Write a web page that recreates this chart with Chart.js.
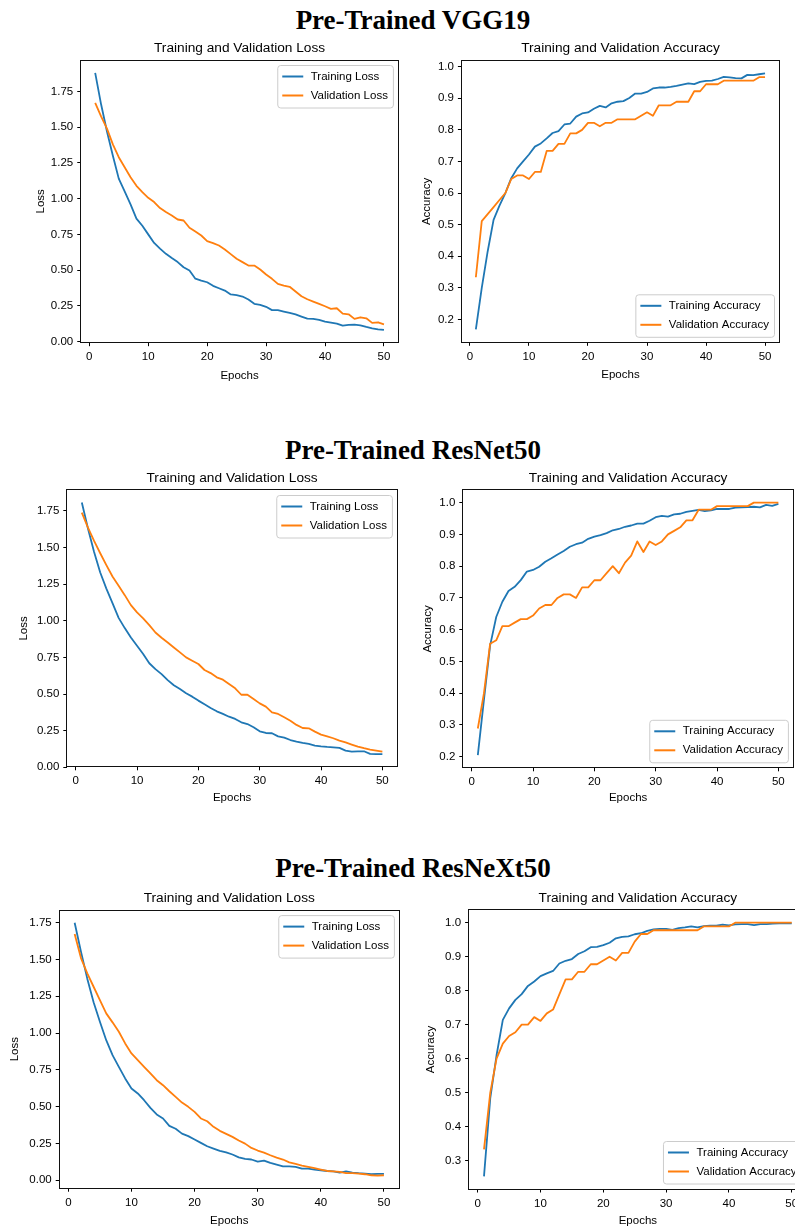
<!DOCTYPE html>
<html>
<head>
<meta charset="utf-8">
<title>Pre-Trained models - training curves</title>
<script src="https://cdn.jsdelivr.net/npm/chart.js@4.4.1/dist/chart.umd.min.js"></script>
<style>
  html, body { margin: 0; padding: 0; background: #fff; overflow: hidden; }
  body { position: relative; width: 795px; height: 1230px; }
  .model-title {
    position: absolute; left: 213px; width: 400px; text-align: center;
    font-family: 'Liberation Serif', 'Times New Roman', serif; font-weight: bold;
    font-size: 27px; line-height: 27px; color: #000; white-space: nowrap;
  }
  canvas { position: absolute; }
</style>
</head>
<body>
<div class="model-title" style="top: 7px">Pre-Trained VGG19</div>
<div class="model-title" style="top: 437px">Pre-Trained ResNet50</div>
<div class="model-title" style="top: 855px">Pre-Trained ResNeXt50</div>

<script>
// ---- data ----
const epochs = [1, 2, 3, 4, 5, 6, 7, 8, 9, 10, 11, 12, 13, 14, 15, 16, 17, 18, 19, 20, 21, 22, 23, 24, 25,
  26, 27, 28, 29, 30, 31, 32, 33, 34, 35, 36, 37, 38, 39, 40, 41, 42, 43, 44, 45, 46, 47, 48, 49, 50];
const epochTicks = [0, 10, 20, 30, 40, 50];
const lossTicks = [0, 0.25, 0.5, 0.75, 1.0, 1.25, 1.5, 1.75];
const accTicks = [0.2, 0.3, 0.4, 0.5, 0.6, 0.7, 0.8, 0.9, 1.0];
const accTicksNext = [0.3, 0.4, 0.5, 0.6, 0.7, 0.8, 0.9, 1.0];

const vggTrainLoss = [1.88, 1.66, 1.47, 1.30, 1.14, 1.05, 0.96, 0.86, 0.81, 0.75, 0.69, 0.65, 0.614, 0.584, 0.556,
  0.52, 0.497, 0.44, 0.427, 0.415, 0.39, 0.373, 0.357, 0.33, 0.325, 0.315, 0.294, 0.264, 0.257, 0.243,
  0.22, 0.22, 0.21, 0.20, 0.19, 0.175, 0.16, 0.159, 0.152, 0.14, 0.133, 0.126, 0.112, 0.117, 0.119,
  0.114, 0.103, 0.093, 0.086, 0.082];
const vggValLoss = [1.67, 1.575, 1.49, 1.38, 1.29, 1.22, 1.15, 1.09, 1.046, 1.006, 0.976, 0.934, 0.906, 0.882, 0.854,
  0.847, 0.796, 0.77, 0.742, 0.703, 0.689, 0.672, 0.644, 0.612, 0.579, 0.556, 0.532, 0.532, 0.504, 0.469,
  0.439, 0.404, 0.392, 0.383, 0.35, 0.317, 0.296, 0.28, 0.264, 0.247, 0.229, 0.233, 0.196, 0.191, 0.159,
  0.17, 0.163, 0.131, 0.135, 0.121];
const vggTrainAcc = [0.168, 0.30, 0.415, 0.515, 0.56, 0.60, 0.647, 0.678, 0.70, 0.722, 0.747, 0.757, 0.773, 0.79, 0.796,
  0.817, 0.82, 0.842, 0.852, 0.855, 0.867, 0.876, 0.871, 0.884, 0.889, 0.891, 0.901, 0.915, 0.915, 0.92,
  0.931, 0.934, 0.934, 0.936, 0.939, 0.943, 0.947, 0.945, 0.952, 0.955, 0.956, 0.961, 0.968, 0.966, 0.964,
  0.963, 0.974, 0.973, 0.976, 0.979];
const vggValAcc = [0.3333, 0.5111, 0.5333, 0.5556, 0.5778, 0.6, 0.6444, 0.6556, 0.6556, 0.6444, 0.6667, 0.6667, 0.7333,
  0.7333, 0.7556, 0.7556, 0.7889, 0.7889, 0.8, 0.8222, 0.8222, 0.8111, 0.8222, 0.8222, 0.8333, 0.8333, 0.8333,
  0.8333, 0.8444, 0.8556, 0.8444, 0.8778, 0.8778, 0.8778, 0.8889, 0.8889, 0.8889, 0.9222, 0.9222, 0.9444,
  0.9444, 0.9444, 0.9556, 0.9556, 0.9556, 0.9556, 0.9556, 0.9556, 0.9667, 0.9667];

const resnetTrainLoss = [1.807, 1.63, 1.47, 1.33, 1.22, 1.12, 1.02, 0.95, 0.886, 0.83, 0.773, 0.71, 0.67, 0.636, 0.595,
  0.56, 0.534, 0.505, 0.482, 0.455, 0.43, 0.405, 0.382, 0.364, 0.345, 0.33, 0.307, 0.295, 0.273, 0.245,
  0.234, 0.232, 0.211, 0.202, 0.186, 0.175, 0.166, 0.159, 0.148, 0.143, 0.139, 0.136, 0.132, 0.114, 0.107,
  0.109, 0.109, 0.091, 0.089, 0.089];
const resnetValLoss = [1.739, 1.636, 1.545, 1.461, 1.38, 1.302, 1.239, 1.175, 1.107, 1.057, 1.016, 0.97, 0.92, 0.884, 0.852,
  0.818, 0.784, 0.75, 0.727, 0.705, 0.664, 0.643, 0.614, 0.598, 0.568, 0.539, 0.495, 0.495, 0.466, 0.436,
  0.414, 0.375, 0.364, 0.341, 0.318, 0.289, 0.268, 0.266, 0.243, 0.223, 0.211, 0.198, 0.182, 0.17, 0.155,
  0.141, 0.13, 0.12, 0.114, 0.107];
const resnetTrainAcc = [0.205, 0.38, 0.55, 0.64, 0.688, 0.722, 0.735, 0.756, 0.783, 0.788, 0.798, 0.814, 0.825, 0.837, 0.848,
  0.861, 0.869, 0.874, 0.886, 0.893, 0.898, 0.904, 0.913, 0.917, 0.924, 0.928, 0.934, 0.934, 0.943, 0.954,
  0.958, 0.956, 0.963, 0.965, 0.971, 0.974, 0.977, 0.973, 0.976, 0.98, 0.98, 0.98, 0.984, 0.985, 0.986,
  0.987, 0.985, 0.993, 0.99, 0.996];
const resnetValAcc = [0.2889, 0.4, 0.5556, 0.5667, 0.6111, 0.6111, 0.6222, 0.6333, 0.6333, 0.6444, 0.6667, 0.6778, 0.6778,
  0.7, 0.7111, 0.7111, 0.7, 0.7333, 0.7333, 0.7556, 0.7556, 0.7778, 0.8, 0.7778, 0.8111, 0.8333, 0.8778,
  0.8444, 0.8778, 0.8667, 0.8778, 0.9, 0.9111, 0.9222, 0.9444, 0.9444, 0.9778, 0.9778, 0.9778, 0.9889,
  0.9889, 0.9889, 0.9889, 0.9889, 0.9889, 1, 1, 1, 1, 1];

const resnextTrainLoss = [1.75, 1.553, 1.37, 1.21, 1.077, 0.952, 0.85, 0.771, 0.692, 0.624, 0.59, 0.544, 0.492, 0.447, 0.42,
  0.37, 0.35, 0.317, 0.30, 0.277, 0.254, 0.231, 0.215, 0.20, 0.19, 0.175, 0.156, 0.145, 0.141, 0.127,
  0.134, 0.118, 0.107, 0.095, 0.095, 0.091, 0.079, 0.079, 0.073, 0.068, 0.063, 0.061, 0.052, 0.061, 0.052,
  0.048, 0.045, 0.041, 0.043, 0.043];
const resnextValLoss = [1.673, 1.51, 1.406, 1.315, 1.224, 1.134, 1.073, 1.009, 0.93, 0.862, 0.816, 0.771, 0.726, 0.68, 0.646,
  0.605, 0.567, 0.528, 0.499, 0.465, 0.42, 0.401, 0.363, 0.336, 0.315, 0.295, 0.27, 0.249, 0.22, 0.202,
  0.188, 0.17, 0.154, 0.141, 0.122, 0.111, 0.10, 0.091, 0.082, 0.073, 0.063, 0.061, 0.057, 0.048, 0.048,
  0.045, 0.041, 0.034, 0.032, 0.034];
const resnextTrainAcc = [0.254, 0.484, 0.61, 0.714, 0.748, 0.773, 0.79, 0.814, 0.827, 0.843, 0.851, 0.858, 0.88, 0.888, 0.893,
  0.908, 0.916, 0.928, 0.929, 0.934, 0.941, 0.954, 0.958, 0.96, 0.966, 0.969, 0.976, 0.98, 0.982, 0.982,
  0.979, 0.984, 0.986, 0.989, 0.986, 0.99, 0.991, 0.991, 0.994, 0.992, 0.995, 0.996, 0.996, 0.993, 0.996,
  0.996, 0.997, 0.998, 0.998, 0.998];
const resnextValAcc = [0.3333, 0.5, 0.6, 0.6444, 0.6667, 0.6778, 0.7, 0.7, 0.7222, 0.7111, 0.7333, 0.7444, 0.7889, 0.8333,
  0.8333, 0.8556, 0.8556, 0.8778, 0.8778, 0.8889, 0.9, 0.8889, 0.9111, 0.9111, 0.9444, 0.9667, 0.9667,
  0.9778, 0.9778, 0.9778, 0.9778, 0.9778, 0.9778, 0.9778, 0.9778, 0.9889, 0.9889, 0.9889, 0.9889, 0.9889,
  1, 1, 1, 1, 1, 1, 1, 1, 1, 1];

// ---- layout: axes boxes in page pixels, measured on the figure ----
const panels = [
  { kind: 'Loss', train: vggTrainLoss, val: vggValLoss, ticks: lossTicks, digits: 2, corner: 'upper right',
    box: { L: 80.75, R: 398.4, T: 60, B: 342.7 }, yTitleX: 40.8, xTitleGap: 33 },
  { kind: 'Accuracy', train: vggTrainAcc, val: vggValAcc, ticks: accTicks, digits: 1, corner: 'lower right',
    box: { L: 461.4, R: 779.5, T: 60.5, B: 342.3 }, yTitleX: 427.3, xTitleGap: 32.7 },
  { kind: 'Loss', train: resnetTrainLoss, val: resnetValLoss, ticks: lossTicks, digits: 2, corner: 'upper right',
    box: { L: 66.8, R: 397.4, T: 490, B: 766.8 }, yTitleX: 24, xTitleGap: 31.5 },
  { kind: 'Accuracy', train: resnetTrainAcc, val: resnetValAcc, ticks: accTicks, digits: 1, corner: 'lower right',
    box: { L: 462.8, R: 793.4, T: 490, B: 767.8 }, yTitleX: 428.3, xTitleGap: 30.5 },
  { kind: 'Loss', train: resnextTrainLoss, val: resnextValLoss, ticks: lossTicks, digits: 2, corner: 'upper right',
    box: { L: 59.2, R: 399.4, T: 910.1, B: 1188.2 }, yTitleX: 15.3, xTitleGap: 32.8 },
  { kind: 'Accuracy', train: resnextTrainAcc, val: resnextValAcc, ticks: accTicksNext, digits: 1, corner: 'lower right',
    box: { L: 468.6, R: 807.1, T: 910, B: 1189 }, yTitleX: 430.7, xTitleGap: 32 }
];

const FONT = "'Liberation Sans', Arial, sans-serif";
const BLUE = '#1f77b4';
const ORANGE = '#ff7f0e';
Chart.defaults.font.family = FONT;
Chart.defaults.font.size = 11.5;
Chart.defaults.color = '#000';

// matplotlib's default 5% margin around the data
function dataRange(...series) {
  const all = [].concat(...series);
  const lo = Math.min(...all), hi = Math.max(...all);
  const pad = (hi - lo) * 0.05;
  return [lo - pad, hi + pad];
}

// four spines plus a matplotlib style legend inside the axes
const mplFrame = {
  id: 'mplFrame',
  afterDraw(chart, args, opts) {
    const { ctx, chartArea: a } = chart;
    const px = v => Math.round(v - 0.5) + 0.5;
    ctx.save();
    ctx.strokeStyle = '#111';
    ctx.lineWidth = 1;
    ctx.strokeRect(px(a.left), px(a.top), px(a.right) - px(a.left), px(a.bottom) - px(a.top));

    const items = chart.data.datasets;
    ctx.font = '11.5px ' + FONT;
    const textW = Math.max(...items.map(d => ctx.measureText(d.label).width));
    const w = 33 + textW + 5.5, h = 42.5;
    const x = a.right - 5 - w;
    const y = opts.corner === 'lower right' ? a.bottom - 5 - h : a.top + 5.5;
    ctx.beginPath();
    if (ctx.roundRect) ctx.roundRect(x, y, w, h, 3); else ctx.rect(x, y, w, h);
    ctx.fillStyle = 'rgba(255,255,255,0.8)';
    ctx.fill();
    ctx.strokeStyle = '#cccccc';
    ctx.stroke();
    items.forEach((d, i) => {
      const cy = y + 11 + i * 19;
      ctx.beginPath();
      ctx.moveTo(x + 4.5, cy);
      ctx.lineTo(x + 25.5, cy);
      ctx.strokeStyle = d.borderColor;
      ctx.lineWidth = 2;
      ctx.stroke();
      ctx.fillStyle = '#000';
      ctx.textBaseline = 'middle';
      ctx.textAlign = 'left';
      ctx.fillText(d.label, x + 33, cy);
    });
    ctx.restore();
  }
};

const tickGrid = { display: true, drawOnChartArea: false, drawTicks: true, tickLength: 3.5, color: '#000' };

panels.forEach(p => {
  const b = p.box;
  const left = Math.floor(p.yTitleX - 7);
  const top = Math.floor(b.T - 25);
  const right = Math.ceil(b.R + 3);
  const bottom = Math.ceil(b.B + p.xTitleGap + 9);

  const canvas = document.createElement('canvas');
  canvas.width = right - left;
  canvas.height = bottom - top;
  canvas.style.left = left + 'px';
  canvas.style.top = top + 'px';
  document.body.appendChild(canvas);

  const xr = dataRange(epochs);
  const yr = dataRange(p.train, p.val);
  const toPoints = vals => vals.map((v, i) => ({ x: epochs[i], y: v }));

  new Chart(canvas.getContext('2d'), {
    type: 'line',
    data: {
      datasets: [
        { label: 'Training ' + p.kind, data: toPoints(p.train), borderColor: BLUE, order: 1 },
        { label: 'Validation ' + p.kind, data: toPoints(p.val), borderColor: ORANGE, order: 0 }
      ]
    },
    options: {
      responsive: false,
      animation: false,
      events: [],
      datasets: {
        line: { borderWidth: 1.8, pointRadius: 0, tension: 0, fill: false, borderJoinStyle: 'round' }
      },
      layout: { padding: { left: 0, top: 0, right: right - b.R, bottom: 0 } },
      scales: {
        x: {
          type: 'linear',
          bounds: 'data',
          min: xr[0],
          max: xr[1],
          afterBuildTicks: axis => { axis.ticks = epochTicks.map(v => ({ value: v })); },
          afterFit: axis => { axis.height = bottom - b.B; },
          grid: tickGrid,
          border: { display: false },
          ticks: { padding: 4, maxRotation: 0, autoSkip: false },
          title: { display: true, text: 'Epochs', padding: { top: 0, bottom: bottom - b.B - p.xTitleGap - 6.9 } }
        },
        y: {
          bounds: 'data',
          min: yr[0],
          max: yr[1],
          afterBuildTicks: axis => { axis.ticks = p.ticks.map(v => ({ value: v })); },
          afterFit: axis => { axis.width = b.L - left; },
          grid: tickGrid,
          border: { display: false },
          ticks: { padding: 4, callback: v => Number(v).toFixed(p.digits) },
          title: { display: true, text: p.kind, padding: { top: p.yTitleX - 6.9 - left, bottom: 0 } }
        }
      },
      plugins: {
        legend: { display: false },
        tooltip: { enabled: false },
        title: {
          display: true,
          text: 'Training and Validation ' + p.kind,
          fullSize: false,
          color: '#000',
          font: { size: 13.7, weight: 'normal' },
          padding: { top: b.T - 20.22 - top, bottom: 3.78 }
        },
        mplFrame: { corner: p.corner }
      }
    },
    plugins: [mplFrame]
  });
});
</script>
</body>
</html>
